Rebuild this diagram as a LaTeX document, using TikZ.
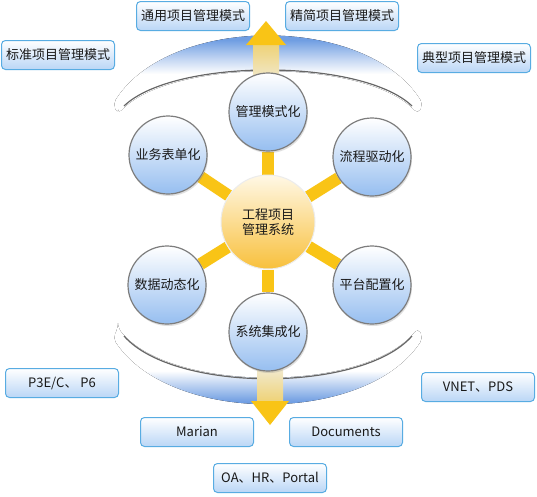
\documentclass[tikz,border=0pt]{standalone}
\usepackage{fontspec}
\newfontfamily\cjk{Noto Sans CJK SC}
\usetikzlibrary{shadows,backgrounds}

\definecolor{boxline}{RGB}{88,172,226}
\definecolor{boxfill}{RGB}{186,214,246}
\definecolor{ballline}{RGB}{125,125,125}
\definecolor{ballblue}{RGB}{150,190,240}
\definecolor{hubtop}{RGB}{255,248,230}
\definecolor{hubyellow}{RGB}{248,192,60}
\definecolor{spokecol}{RGB}{249,196,22}
\definecolor{arcblue}{RGB}{112,158,226}
\definecolor{textcol}{RGB}{25,25,25}

\pgfdeclareverticalshading{topband}{100bp}{color(0bp)=(white); color(45bp)=(white); color(53bp)=(arcblue!45); color(62bp)=(arcblue); color(100bp)=(arcblue)}
\pgfdeclareverticalshading{botband}{100bp}{color(0bp)=(arcblue); color(37bp)=(arcblue); color(46bp)=(arcblue!45); color(53bp)=(white); color(100bp)=(white)}

\tikzset{
  modebox/.style={draw=boxline, line width=1pt, rounded corners=4pt,
    top color=white, bottom color=boxfill, minimum width=113pt,
    minimum height=29pt, inner sep=0pt, text=textcol,
    font=\cjk\fontsize{13}{15}\selectfont},
  ball/.style={circle, draw=ballline, line width=1.2pt, top color=white,
    bottom color=ballblue, minimum size=78pt,
    inner sep=0pt, text=textcol, font=\cjk\fontsize{13}{15}\selectfont,
    drop shadow={opacity=0.25, shadow xshift=1pt, shadow yshift=-2pt}},
  hub/.style={circle, draw=white!85!gray, line width=1pt, top color=hubtop,
    bottom color=hubyellow, minimum size=94pt, inner sep=0pt, align=center,
    text=textcol, font=\cjk\fontsize{13}{15}\selectfont},
  spoke/.style={spokecol, line width=12pt},
  arcline/.style={draw=black!60, line width=1.2pt},
  arrowhead/.style={fill=spokecol}
}

\begin{document}
\begin{tikzpicture}[x=1pt,y=-1pt]
\useasboundingbox (0,0) rectangle (537,496);
% management modes
\node[modebox] (general) at (193,16) {通用项目管理模式};
\node[modebox] (lean) at (342,16) {精简项目管理模式};
\node[modebox] (standard) at (58,55) {标准项目管理模式};
\node[modebox] (typical) at (474,58) {典型项目管理模式};
% integrated systems
\node[modebox] (p3e) at (62,383) {P3E/C、 P6};
\node[modebox] (vnet) at (478,387) {VNET、PDS};
\node[modebox] (marian) at (197,432) {Marian};
\node[modebox] (docs) at (346,432) {Documents};
\node[modebox] (oa) at (270,478) {OA、HR、Portal};

\node[hub] (hub) at (268,222) {工程项目\\管理系统};
\node[ball] (mode) at (268,112) {管理模式化};
\node[ball] (form) at (168,155) {业务表单化};
\node[ball] (flow) at (372,157) {流程驱动化};
\node[ball] (data) at (167,285) {数据动态化};
\node[ball] (config) at (372,285) {平台配置化};
\node[ball] (integ) at (268,332) {系统集成化};

\begin{pgfonlayer}{background}
\fill[white] (0,0) rectangle (537,496);
\fill[shading=topband, rounded corners=5pt] (118,114) -- (113,104) .. controls (170,14) and (366,14) .. (423,104)
  -- (418,114) .. controls (366,58) and (170,58) .. cycle;
\draw[arcline] (412,106) .. controls (362,58) and (174,58) .. (124,106);
\fill[shading=botband, rounded corners=5pt] (118,328) -- (113,338) .. controls (170,425) and (366,425) .. (423,338)
  -- (418,328) .. controls (366,393) and (170,393) .. cycle;
\draw[arcline] (412,336) .. controls (362,393) and (174,393) .. (124,336);
% arrows
\fill[top color=spokecol!55!white, bottom color=white, opacity=0.95] (253,45) rectangle (279,95);
\fill[arrowhead] (246,45) -- (266,21) -- (286,45) -- cycle;
\fill[top color=white, bottom color=spokecol!55!white, opacity=0.95] (257,355) rectangle (283,401);
\fill[arrowhead] (251,401) -- (270,425) -- (289,401) -- cycle;
\foreach \b in {mode,form,flow,data,config,integ}
  \draw[spoke] (hub) -- (\b);
\end{pgfonlayer}
\end{tikzpicture}
\end{document}
